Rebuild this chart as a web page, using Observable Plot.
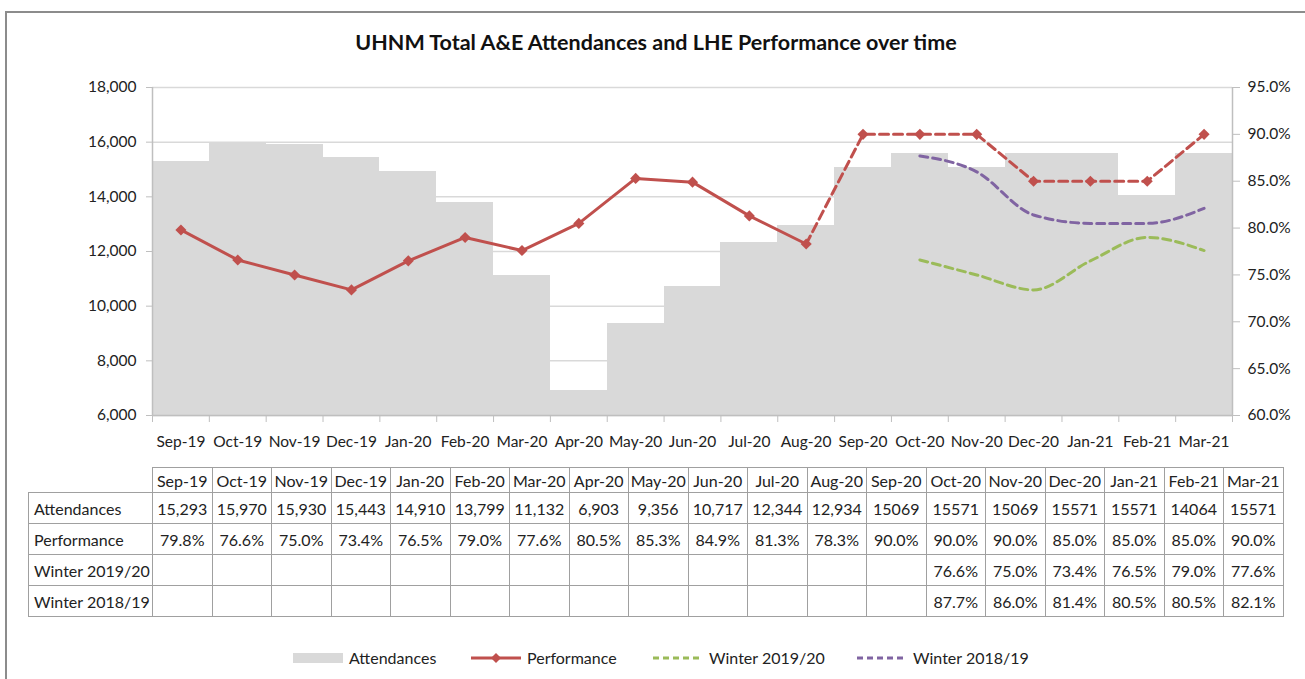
<!DOCTYPE html>
<html>
<head>
<meta charset="utf-8">
<script src="https://cdn.jsdelivr.net/npm/d3@7"></script>
<script src="https://cdn.jsdelivr.net/npm/@observablehq/plot@0.6"></script>
<style>
  html, body { margin: 0; padding: 0; background: #fff; overflow: hidden; }
  #wrap { position: relative; width: 1305px; height: 679px; overflow: hidden; font-family: Lato, "Open Sans", sans-serif; color: #222; }
  #frame { position: absolute; left: 5px; top: 11px; width: 1320px; height: 700px; border: 2px solid #8c8c8c; box-sizing: border-box; }
  #title { position: absolute; left: 0; width: 1312px; top: 32px; text-align: center; font-size: 21.5px; line-height: 21.5px; font-weight: 700; color: #111; white-space: nowrap; }
  #chart { position: absolute; left: 0; top: 0; }
  #table { position: absolute; left: 28px; top: 467px; border-collapse: collapse; table-layout: fixed; font-size: 16px; color: #222; }
  #table td { border: 1px solid #a0a0a0; padding: 0; text-align: center; white-space: nowrap; overflow: hidden; }
  #table td.lab { text-align: left; padding-left: 5px; }
  #table tr.head td { height: 24px; }
  #table tr.body td { height: 30px; }
  #table td.corner { border-top: none; border-left: none; }
  #legend { position: absolute; left: 0; top: 638px; }
</style>
</head>
<body>
<div id="wrap">
  <div id="frame"></div>
  <div id="title">UHNM Total A&amp;E Attendances and LHE Performance over time</div>
  <div id="chart"></div>
  <table id="table"></table>
  <svg id="legend" width="1305" height="40"></svg>
</div>
<script>
// ---------- data ----------
const months = ["Sep-19","Oct-19","Nov-19","Dec-19","Jan-20","Feb-20","Mar-20","Apr-20","May-20","Jun-20","Jul-20","Aug-20","Sep-20","Oct-20","Nov-20","Dec-20","Jan-21","Feb-21","Mar-21"];
const attendances = [15293,15970,15930,15443,14910,13799,11132,6903,9356,10717,12344,12934,15069,15571,15069,15571,15571,14064,15571];
const performance = [79.8,76.6,75.0,73.4,76.5,79.0,77.6,80.5,85.3,84.9,81.3,78.3,90.0,90.0,90.0,85.0,85.0,85.0,90.0];
const winter1920 = [null,null,null,null,null,null,null,null,null,null,null,null,null,76.6,75.0,73.4,76.5,79.0,77.6];
const winter1819 = [null,null,null,null,null,null,null,null,null,null,null,null,null,87.7,86.0,81.4,80.5,80.5,82.1];
const actualMonths = 12;              // Sep-19 .. Aug-20 are actuals (solid line, comma format)
const attTicks = [6000,8000,10000,12000,14000,16000,18000];
const pctTicks = [60,65,70,75,80,85,90,95];
const seriesNames = ["Attendances","Performance","Winter 2019/20","Winter 2018/19"];

// ---------- styling ----------
const C = { bar: "#d9d9d9", perf: "#c0504d", w1920: "#9bbb59", w1819: "#8064a2", grid: "#d9d9d9", axis: "#bfbfbf", text: "#222" };

// secondary (percentage) axis mapped onto the primary attendance axis
const attMin = attTicks[0], attMax = attTicks[attTicks.length - 1];
const pMin = pctTicks[0], pMax = pctTicks[pctTicks.length - 1];
const pctToAtt = p => attMin + (p - pMin) / (pMax - pMin) * (attMax - attMin);
const attToPct = v => pMin + (v - attMin) / (attMax - attMin) * (pMax - pMin);

const data = months.map((m, i) => ({
  i, month: m, att: attendances[i], perf: performance[i], w1920: winter1920[i], w1819: winter1819[i]
}));
const cx = d => d.i + 0.5;

const chart = Plot.plot({
  width: 1305,
  height: 460,
  marginLeft: 152,
  marginRight: 73,
  marginTop: 87,
  marginBottom: 45,
  style: { fontFamily: "Lato, 'Open Sans', sans-serif", fontSize: "15.5px", color: C.text, background: "transparent", overflow: "visible" },
  x: { type: "linear", domain: [0, months.length], axis: null, label: null },
  y: { type: "linear", domain: [attMin, attMax], axis: null, label: null },
  marks: [
    Plot.ruleY(attTicks, { stroke: C.grid, strokeWidth: 1.5 }),
    Plot.rectY(data, { x1: "i", x2: d => d.i + 1, y1: attMin, y2: "att", fill: C.bar, shapeRendering: "crispEdges" }),
    Plot.ruleX([0, months.length], { y1: attMin, y2: attMax, stroke: C.axis, strokeWidth: 1.5 }),
    Plot.ruleY([attMin], { stroke: C.axis, strokeWidth: 1.5 }),
    Plot.axisY(attTicks, { anchor: "left", label: null, tickSize: 6, tickPadding: 10, tickFormat: d3.format(","), stroke: C.axis, fill: C.text }),
    Plot.axisY(pctTicks.map(pctToAtt), { anchor: "right", label: null, tickSize: 7, tickPadding: 8, tickFormat: v => attToPct(v).toFixed(1) + "%", stroke: C.axis, fill: C.text }),
    Plot.axisX(d3.range(months.length + 1), { anchor: "bottom", label: null, tickSize: 7, tickFormat: () => "", stroke: C.axis }),
    Plot.axisX(data.map(cx), { anchor: "bottom", label: null, tickSize: 0, tickPadding: 20, tickFormat: v => months[Math.floor(v)], fill: C.text }),
    Plot.line(data.slice(0, actualMonths), { x: cx, y: d => pctToAtt(d.perf), stroke: C.perf, strokeWidth: 3 }),
    Plot.line(data.slice(actualMonths - 1), { x: cx, y: d => pctToAtt(d.perf), stroke: C.perf, strokeWidth: 3, strokeDasharray: "9,5" }),
    Plot.line(data.filter(d => d.w1920 != null), { x: cx, y: d => pctToAtt(d.w1920), stroke: C.w1920, strokeWidth: 3, strokeDasharray: "8,5", curve: "monotone-x" }),
    Plot.line(data.filter(d => d.w1819 != null), { x: cx, y: d => pctToAtt(d.w1819), stroke: C.w1819, strokeWidth: 3, strokeDasharray: "8,5", curve: "monotone-x" }),
    Plot.dot(data, { x: cx, y: d => pctToAtt(d.perf), symbol: "diamond2", r: 5, fill: C.perf, stroke: "none" })
  ]
});
document.getElementById("chart").appendChild(chart);

// ---------- data table ----------
const fmtComma = d3.format(",");
const pct = v => v == null ? "" : v.toFixed(1) + "%";
const rows = [
  [seriesNames[0], attendances.map((v, i) => i < actualMonths ? fmtComma(v) : String(v))],
  [seriesNames[1], performance.map(pct)],
  [seriesNames[2], winter1920.map(pct)],
  [seriesNames[3], winter1819.map(pct)]
];
const table = d3.select("#table");
const cg = table.append("colgroup");
cg.append("col").style("width", "124px");
months.forEach(() => cg.append("col").style("width", "59.5px"));
const head = table.append("tr").attr("class", "head");
head.append("td").attr("class", "corner");
months.forEach(m => head.append("td").text(m));
rows.forEach(([name, vals]) => {
  const tr = table.append("tr").attr("class", "body");
  tr.append("td").attr("class", "lab").text(name);
  vals.forEach(v => tr.append("td").text(v));
});

// ---------- legend ----------
const lg = d3.select("#legend");
const ly = 20;
const items = [
  { name: seriesNames[0], x: 293, type: "bar" },
  { name: seriesNames[1], x: 471, type: "line", color: C.perf, marker: true },
  { name: seriesNames[2], x: 653, type: "dash", color: C.w1920 },
  { name: seriesNames[3], x: 857, type: "dash", color: C.w1819 }
];
items.forEach(it => {
  const g = lg.append("g");
  if (it.type === "bar") {
    g.append("rect").attr("x", it.x).attr("y", ly - 5).attr("width", 50).attr("height", 10).attr("fill", C.bar);
  } else {
    g.append("line").attr("x1", it.x).attr("x2", it.x + 50).attr("y1", ly).attr("y2", ly)
      .attr("stroke", it.color).attr("stroke-width", 3).attr("stroke-dasharray", it.type === "dash" ? "6,4" : null);
    if (it.marker) {
      const mx = it.x + 25;
      g.append("path").attr("d", `M${mx},${ly - 5}L${mx + 5},${ly}L${mx},${ly + 5}L${mx - 5},${ly}Z`).attr("fill", it.color);
    }
  }
  g.append("text").attr("x", it.x + 56).attr("y", ly).attr("dy", "0.35em")
    .attr("font-family", "Lato, 'Open Sans', sans-serif").attr("font-size", 16).attr("fill", C.text).text(it.name);
});
</script>
</body>
</html>
